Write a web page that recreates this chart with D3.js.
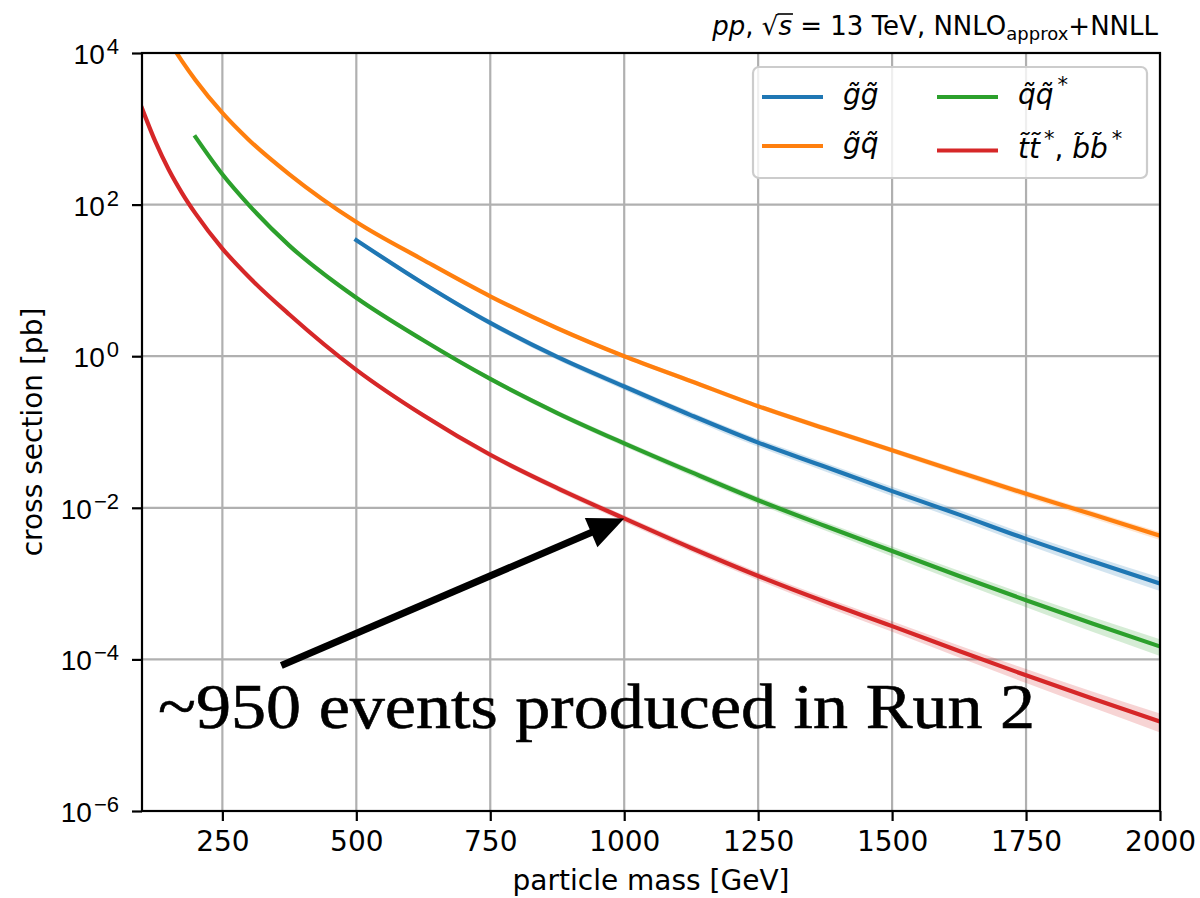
<!DOCTYPE html>
<html>
<head>
<meta charset="utf-8">
<script src="https://cdn.jsdelivr.net/npm/d3@7"></script>
<style>
  body { margin: 0; background: #fff; }
  svg { display: block; font-family: "DejaVu Sans", sans-serif; }
</style>
</head>
<body>
<svg id="chart" width="1200" height="898"></svg>
<script>
// DATA //
const masses = [100, 125, 150, 175, 200, 250, 300, 375, 500, 625, 750, 875, 1000, 1125, 1250, 1375, 1500, 1625, 1750, 1875, 2000]

// cross sections in pb, null = not computed
const xsecGG = [null, null, null, null, null, null, null, null, 33.9, 9.12, 2.75, 0.977, 0.398, 0.166, 0.0724, 0.0347, 0.0166, 0.00813, 0.00389, 0.00195, 0.00100]
const xsecGQ = [null, null, 1.45e4, 7.76e3, 4.37e3, 1.62e3, 708, 251, 58.9, 18.6, 6.17, 2.34, 1.0, 0.468, 0.219, 0.111, 0.0575, 0.0295, 0.0153, 0.00813, 0.00427]
const xsecQQ = [null, null, null, null, 776, 251, 97.7, 28.8, 5.89, 1.62, 0.501, 0.178, 0.0708, 0.0295, 0.0126, 0.00575, 0.00269, 0.00126, 6.03e-4, 2.95e-4, 1.48e-4]
const xsecTT = [1862, 676, 288, 141, 75.9, 26.3, 11.0, 3.55, 0.661, 0.166, 0.0501, 0.0182, 0.00724, 0.00295, 0.00126, 5.75e-4, 2.75e-4, 1.29e-4, 6.17e-5, 3.02e-5, 1.51e-5]

// relative scale/pdf uncertainty (fraction) for the shaded bands
const uncGG = [null, null, null, null, null, null, null, null, 0.06, 0.07, 0.08, 0.09, 0.10, 0.11, 0.12, 0.13, 0.14, 0.15, 0.16, 0.18, 0.20]
const uncGQ = [null, null, 0.03, 0.03, 0.03, 0.03, 0.03, 0.04, 0.04, 0.05, 0.05, 0.06, 0.06, 0.07, 0.07, 0.08, 0.08, 0.09, 0.10, 0.11, 0.12]
const uncQQ = [null, null, null, null, 0.03, 0.03, 0.04, 0.04, 0.05, 0.06, 0.07, 0.08, 0.09, 0.10, 0.11, 0.13, 0.15, 0.17, 0.19, 0.22, 0.25]
const uncTT = [0.04, 0.04, 0.04, 0.04, 0.04, 0.04, 0.05, 0.05, 0.06, 0.07, 0.08, 0.09, 0.10, 0.11, 0.12, 0.14, 0.16, 0.18, 0.21, 0.24, 0.28]

const seriesColors = ["#1f77b4", "#ff7f0e", "#2ca02c", "#d62728"]

const xTicks = [250, 500, 750, 1000, 1250, 1500, 1750, 2000]
const yTicks = [1e-6, 1e-4, 1e-2, 1, 1e2, 1e4]
const yTickExps = ["\u22126", "\u22124", "\u22122", "0", "2", "4"]

// arrow from annotation text to the stop curve at 1 TeV
const arrowFrom = [360, 8.3e-5]
const arrowTo = [1000, 0.00724]
const noteText = "~950 events produced in Run 2"
const notePos = [130, 1.25e-5]

// CHART //
const W = 1200, H = 898
const margin = {left: 142, top: 53, right: 40, bottom: 87}
const plotW = W - margin.left - margin.right
const plotH = H - margin.top - margin.bottom

const svg = d3.select("#chart")

const x = d3.scaleLinear().domain([100, 2000]).range([margin.left, margin.left + plotW])
const y = d3.scaleLog().domain([1e-6, 1e4]).range([margin.top + plotH, margin.top])

svg.append("defs").append("clipPath").attr("id", "plotclip")
    .append("rect")
    .attr("x", margin.left).attr("y", margin.top)
    .attr("width", plotW).attr("height", plotH)

// grid
const grid = svg.append("g").attr("stroke", "#b0b0b0").attr("stroke-width", 2.2)
grid.selectAll("line.gx").data(xTicks).enter().append("line")
    .attr("x1", d => x(d)).attr("x2", d => x(d))
    .attr("y1", margin.top).attr("y2", margin.top + plotH)
grid.selectAll("line.gy").data(yTicks).enter().append("line")
    .attr("x1", margin.left).attr("x2", margin.left + plotW)
    .attr("y1", d => y(d)).attr("y2", d => y(d))

// curves
const series = [
    {vals: xsecGG, unc: uncGG, color: seriesColors[0]},
    {vals: xsecGQ, unc: uncGQ, color: seriesColors[1]},
    {vals: xsecQQ, unc: uncQQ, color: seriesColors[2]},
    {vals: xsecTT, unc: uncTT, color: seriesColors[3]}
]

const plot = svg.append("g").attr("clip-path", "url(#plotclip)")

series.forEach(s => {
    const pts = masses.map((m, i) => ({m: m, v: s.vals[i], u: s.unc[i]})).filter(p => p.v != null)
    const area = d3.area()
        .x(p => x(p.m))
        .y0(p => y(p.v * (1 - p.u)))
        .y1(p => y(p.v * (1 + p.u)))
        .curve(d3.curveMonotoneX)
    plot.append("path").datum(pts)
        .attr("d", area)
        .attr("fill", s.color).attr("fill-opacity", 0.2)
})

series.forEach(s => {
    const pts = masses.map((m, i) => ({m: m, v: s.vals[i]})).filter(p => p.v != null)
    const line = d3.line().x(p => x(p.m)).y(p => y(p.v)).curve(d3.curveMonotoneX)
    plot.append("path").datum(pts)
        .attr("d", line)
        .attr("fill", "none")
        .attr("stroke", s.color)
        .attr("stroke-width", 4.2)
        .attr("stroke-linecap", "square")
        .attr("stroke-linejoin", "round")
})

// axes
const xAxis = svg.append("g")
    .attr("transform", `translate(0,${margin.top + plotH})`)
    .call(d3.axisBottom(x).tickValues(xTicks).tickSize(10).tickPadding(10).tickFormat(d3.format("d")))
xAxis.select(".domain").remove()
xAxis.selectAll(".tick line").attr("stroke", "#000").attr("stroke-width", 2.2)
xAxis.selectAll(".tick text")
    .attr("font-family", "DejaVu Sans").attr("font-size", 28).attr("fill", "#000")

const yAxis = svg.append("g")
    .attr("transform", `translate(${margin.left},0)`)
    .call(d3.axisLeft(y).tickValues(yTicks).tickSize(10).tickFormat(""))
yAxis.select(".domain").remove()
yAxis.selectAll(".tick line").attr("stroke", "#000").attr("stroke-width", 2.2)

yAxis.selectAll(".tick").each(function(d, i) {
    const t = d3.select(this).append("text")
        .attr("x", -23).attr("y", 10.5)
        .attr("text-anchor", "end")
        .attr("font-size", 28).attr("fill", "#000")
    t.append("tspan").text("10")
    t.append("tspan").attr("dy", -10).attr("dx", 2).attr("font-size", 22).text(yTickExps[i])
})

// spines
svg.append("rect")
    .attr("x", margin.left).attr("y", margin.top)
    .attr("width", plotW).attr("height", plotH)
    .attr("fill", "none").attr("stroke", "#000").attr("stroke-width", 2.2)

// axis labels
svg.append("text")
    .attr("x", margin.left + plotW / 2).attr("y", 890)
    .attr("text-anchor", "middle").attr("font-size", 28)
    .text("particle mass [GeV]")

svg.append("text")
    .attr("transform", `translate(42,${margin.top + plotH / 2}) rotate(-90)`)
    .attr("text-anchor", "middle").attr("font-size", 28)
    .text("cross section [pb]")

// title
const title = svg.append("text")
    .attr("x", margin.left + plotW - 2).attr("y", 35)
    .attr("text-anchor", "end").attr("font-size", 26)
title.append("tspan").attr("font-style", "italic").text("pp")
title.append("tspan").text(", \u221A")
title.append("tspan").attr("font-style", "italic").text("s")
title.append("tspan").text(" = 13 TeV, NNLO")
title.append("tspan").attr("font-size", 18).attr("dy", 5).text("approx")
title.append("tspan").attr("dy", -5).text("+NNLL")
// overline of the square root
const tn = title.node()
const rootIdx = 4, sIdx = 5
const p0 = tn.getStartPositionOfChar(rootIdx)
const p1 = tn.getEndPositionOfChar(sIdx)
svg.append("line")
    .attr("x1", tn.getEndPositionOfChar(rootIdx).x - 1).attr("x2", p1.x + 1)
    .attr("y1", p0.y - 21).attr("y2", p0.y - 21)
    .attr("stroke", "#000").attr("stroke-width", 1.6)

// legend
const legend = svg.append("g")
legend.append("rect")
    .attr("x", 753).attr("y", 67).attr("width", 394).attr("height", 111)
    .attr("rx", 6).attr("ry", 6)
    .attr("fill", "#fff").attr("fill-opacity", 0.8)
    .attr("stroke", "#cccccc").attr("stroke-width", 2.2)

const legendLabels = [
    [["g\u0303g\u0303"]],
    [["g\u0303q\u0303"]],
    [["q\u0303q\u0303"], ["*", "sup"]],
    [["t\u0303t\u0303"], ["*", "sup"], [", ", "up"], ["b\u0303b\u0303"], ["*", "sup"]]
]
const legendPos = [
    {x: 762, y: 97, ty: 104},
    {x: 762, y: 146, ty: 153},
    {x: 937, y: 97, ty: 104},
    {x: 937, y: 150.5, ty: 158}
]
legendLabels.forEach((parts, i) => {
    const p = legendPos[i]
    legend.append("line")
        .attr("x1", p.x).attr("x2", p.x + 61)
        .attr("y1", p.y).attr("y2", p.y)
        .attr("stroke", seriesColors[i]).attr("stroke-width", 4.2)
    const t = legend.append("text")
        .attr("x", p.x + 81).attr("y", p.ty)
        .attr("font-size", 28)
    let raised = false
    parts.forEach(part => {
        const sp = t.append("tspan").text(part[0])
        if (part[1] === "sup") {
            sp.attr("font-size", 21).attr("dy", -12).attr("dx", 4)
            raised = true
        } else {
            if (raised) { sp.attr("dy", 12); raised = false }
            if (part[1] !== "up") sp.attr("font-style", "italic")
        }
    })
})

// annotation arrow
const ax0 = x(arrowFrom[0]), ay0 = y(arrowFrom[1])
const ax1 = x(arrowTo[0]), ay1 = y(arrowTo[1])
const ang = Math.atan2(ay1 - ay0, ax1 - ax0)
const headLen = 36, headHalf = 16
const bx = ax1 - headLen * Math.cos(ang), by = ay1 - headLen * Math.sin(ang)
svg.append("line")
    .attr("x1", ax0).attr("y1", ay0).attr("x2", bx + 2 * Math.cos(ang)).attr("y2", by + 2 * Math.sin(ang))
    .attr("stroke", "#000").attr("stroke-width", 7)
svg.append("polygon")
    .attr("points", [
        [ax1, ay1],
        [bx + headHalf * Math.sin(ang), by - headHalf * Math.cos(ang)],
        [bx - headHalf * Math.sin(ang), by + headHalf * Math.cos(ang)]
    ].map(p => p.join(",")).join(" "))
    .attr("fill", "#000")

svg.append("text")
    .attr("x", x(notePos[0])).attr("y", y(notePos[1]))
    .attr("font-family", "'Liberation Serif', serif")
    .attr("font-size", 63)
    .attr("stroke", "#000").attr("stroke-width", 0.6)
    .attr("textLength", 877).attr("lengthAdjust", "spacingAndGlyphs")
    .text(noteText)
</script>
</body>
</html>
